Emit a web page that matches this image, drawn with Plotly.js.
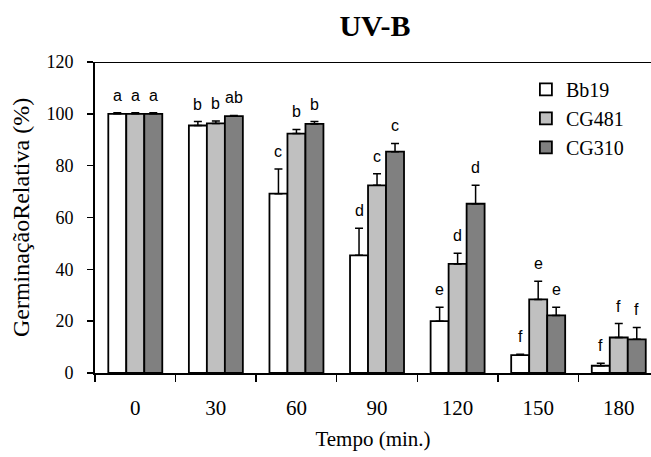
<!DOCTYPE html>
<html><head><meta charset="utf-8">
<script src="https://cdn.plot.ly/plotly-3.0.1.min.js"></script>
<style>body{margin:0;background:#fff}</style>
</head><body>
<div id="chart" style="width:651px;height:457px"></div>
<script>
const categories = ["0","30","60","90","120","150","180"];
const seriesNames = ["Bb19","CG481","CG310"];
const bb19 = [100, 95.5, 69.2, 45.4, 20.0, 6.9, 2.8];
const bb19Err = [0.4, 1.5, 9.5, 10.5, 5.4, 0.3, 1.0];
const cg481 = [100, 96.3, 92.4, 72.4, 42.1, 28.4, 13.7];
const cg481Err = [0.4, 0.9, 1.6, 4.5, 4.1, 7.0, 5.4];
const cg310 = [100, 99.1, 96.1, 85.4, 65.3, 22.2, 13.0];
const cg310Err = [0.4, 0.3, 0.9, 3.2, 7.1, 3.2, 4.6];
const bb19Letters = ["a","b","c","d","e","f","f"];
const cg481Letters = ["a","b","b","c","d","e","f"];
const cg310Letters = ["a","ab","b","c","d","e","f"];
const yTicks = [0,20,40,60,80,100,120];

const SERIF = 'Liberation Serif';
const SANS = 'Liberation Sans';
const fills = ["#ffffff","#c0c0c0","#808080"];
const vals = [bb19, cg481, cg310];
const errs = [bb19Err, cg481Err, cg310Err];
const letters = [bb19Letters, cg481Letters, cg310Letters];

const traces = vals.map((v,i)=>({
  type:'bar', name:seriesNames[i], x:categories, y:v,
  marker:{color:fills[i], line:{color:'#000', width:1.8}},
  error_y:{type:'data', symmetric:false, array:errs[i], arrayminus:v.map(()=>0), color:'#000', thickness:1.5, width:4},
  hoverinfo:'none'
}));

const offsets = [-18, 0, 18];
const annotations = [];
vals.forEach((v,i)=>{
  v.forEach((val,j)=>{
    annotations.push({x:j, y:val+errs[i][j], xref:'x', yref:'y', text:letters[i][j],
      showarrow:false, xshift:offsets[i], yshift:7, yanchor:'bottom',
      font:{family:SANS, size:16, color:'#000'}});
  });
});

const layout = {
  width:651, height:457,
  margin:{l:95, r:0, t:62, b:84},
  paper_bgcolor:'#fff', plot_bgcolor:'#fff',
  title:{text:'<b>UV-B</b>', xref:'container', x:0.576, xanchor:'center', yref:'container', y:0.945, yanchor:'middle', font:{family:SERIF, size:30, color:'#000'}},
  barmode:'group', bargap:0.33, bargroupgap:0,
  showlegend:true,
  legend:{x:0.775, y:0.975, xanchor:'left', yanchor:'top', bgcolor:'rgba(0,0,0,0)', font:{family:SERIF, size:20, color:'#000'}, itemwidth:30, tracegroupgap:0},
  xaxis:{type:'category', range:[-0.5, 6.4], tickson:'boundaries', ticks:'outside', ticklen:7, tickwidth:1.5, tickcolor:'#000',
    showline:true, linecolor:'#000', linewidth:2, showgrid:false, zeroline:false, ticklabelstandoff:15,
    tickfont:{family:SERIF, size:21, color:'#000'},
    title:{text:'Tempo (min.)', standoff:12, font:{family:SERIF, size:21, color:'#000'}}},
  yaxis:{range:[0,120], tickvals:yTicks, ticks:'outside', ticklen:6, tickwidth:1.5, tickcolor:'#000',
    showline:true, linecolor:'#000', linewidth:2, showgrid:false, zeroline:false, ticklabelstandoff:10,
    tickfont:{family:SERIF, size:18, color:'#000'},
    title:{text:'GerminaçãoRelativa (%)', standoff:10, font:{family:SERIF, size:24, color:'#000'}}},
  shapes:[{type:'line', xref:'paper', yref:'y', x0:0, x1:1, y0:120, y1:120, line:{color:'#000', width:2}}],
  annotations:annotations
};
Plotly.newPlot('chart', traces, layout, {displayModeBar:false, staticPlot:true});
</script>
</body></html>
